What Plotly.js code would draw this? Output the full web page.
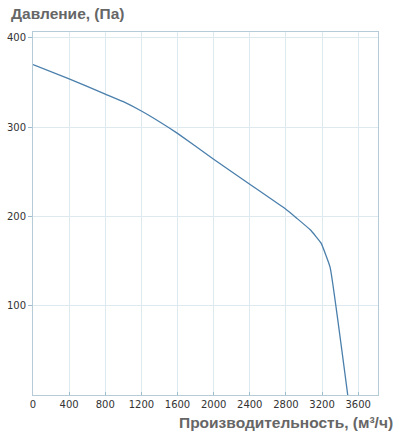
<!DOCTYPE html>
<html>
<head>
<meta charset="utf-8">
<script src="https://cdn.plot.ly/plotly-3.0.1.min.js"></script>
<style>html,body{margin:0;padding:0;background:#fff;}#chart{width:400px;height:437px;}</style>
</head>
<body>
<div id="chart"></div>
<script>
const flow = [0, 400, 800, 1000, 1200, 1400, 1600, 2000, 2400, 2800, 2920, 3070, 3190, 3290, 3485];
const pressure = [370, 354, 337, 328.5, 318, 306, 293, 264, 236, 208, 198, 185, 170, 143, 0];
const xTicks = [0, 400, 800, 1200, 1600, 2000, 2400, 2800, 3200, 3600];
const yTicks = [100, 200, 300, 400];
const yTitle = "Давление, (Па)";
const xTitle = "Производительность, (м³/ч)";

const trace = {
  x: flow, y: pressure, type: 'scatter', mode: 'lines',
  line: {color: '#4a7fac', width: 1.3, shape: 'spline', smoothing: 0.3}, hoverinfo: 'none'
};
const layout = {
  width: 400, height: 437,
  margin: {l: 33, r: 22, t: 32, b: 42},
  paper_bgcolor: '#fff', plot_bgcolor: '#fff',
  showlegend: false,
  font: {family: 'DejaVu Sans, Verdana, sans-serif', size: 10, color: '#333'},
  xaxis: {
    range: [0, 3820], tickvals: xTicks, ticktext: xTicks.map(String),
    showgrid: true, gridcolor: '#dde8ef', gridwidth: 1,
    showline: true, linecolor: '#b5cbd8', linewidth: 1, mirror: true,
    ticks: 'inside', ticklen: 3, tickcolor: '#9fbccd',
    zeroline: false, fixedrange: true,
    tickfont: {size: 10, color: '#333'}
  },
  yaxis: {
    range: [0, 406.5], tickvals: yTicks, ticktext: yTicks.map(String),
    showgrid: true, gridcolor: '#dde8ef', gridwidth: 1,
    showline: true, linecolor: '#b5cbd8', linewidth: 1, mirror: true,
    ticks: 'outside', ticklen: 4, tickcolor: '#9fbccd',
    zeroline: false, fixedrange: true,
    tickfont: {size: 10, color: '#333'}
  },
  annotations: [
    {text: yTitle, xref: 'paper', yref: 'paper', x: 0, y: 1, xanchor: 'left', yanchor: 'bottom',
     xshift: -24, yshift: 8, showarrow: false,
     font: {family: 'Liberation Sans, Arial, sans-serif', size: 15.5, color: '#666', weight: 'bold'}},
    {text: xTitle, xref: 'paper', yref: 'paper', x: 1, y: 0, xanchor: 'right', yanchor: 'top',
     xshift: 17, yshift: -17, showarrow: false,
     font: {family: 'Liberation Sans, Arial, sans-serif', size: 15.5, color: '#666', weight: 'bold'}}
  ]
};
Plotly.newPlot('chart', [trace], layout, {displayModeBar: false, staticPlot: true});
</script>
</body>
</html>
